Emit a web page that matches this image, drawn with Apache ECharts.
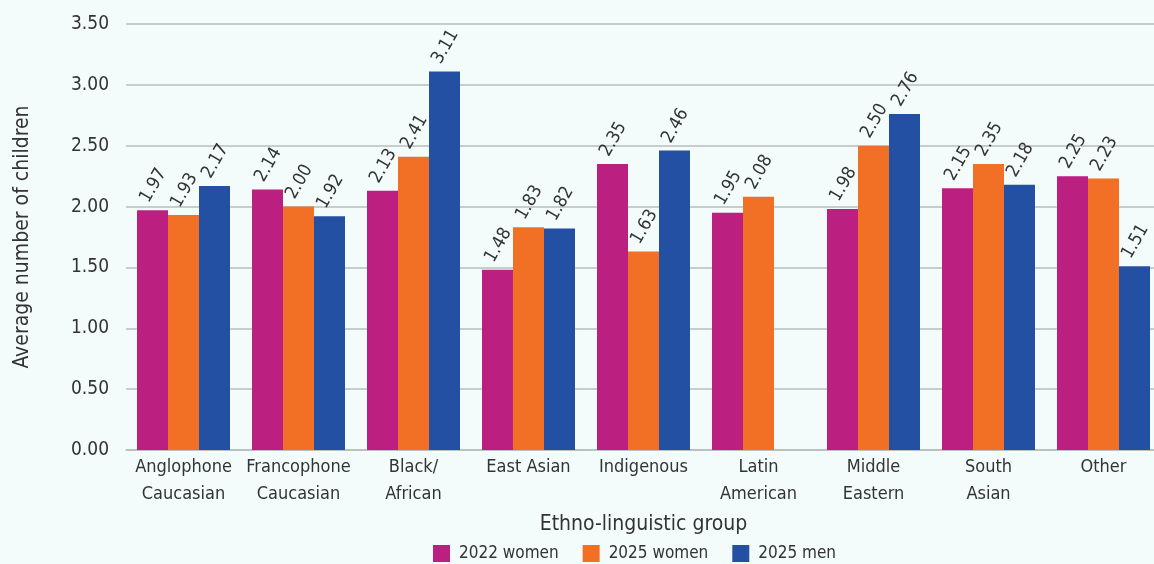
<!DOCTYPE html>
<html>
<head>
<meta charset="utf-8">
<script src="https://cdn.jsdelivr.net/npm/echarts@6/dist/echarts.min.js"></script>
<style>
  html, body { margin: 0; padding: 0; background: #f3fbfb; }
  #chart { width: 1154px; height: 564px; }
</style>
</head>
<body>
<div id="chart"></div>
<script>
// Average number of children by ethno-linguistic group
const categories = [
  'Anglophone\nCaucasian', 'Francophone\nCaucasian', 'Black/\nAfrican', 'East Asian',
  'Indigenous', 'Latin\nAmerican', 'Middle\nEastern', 'South\nAsian', 'Other'
];
const women2022 = [1.97, 2.14, 2.13, 1.48, 2.35, 1.95, 1.98, 2.15, 2.25];
const women2025 = [1.93, 2.00, 2.41, 1.83, 1.63, 2.08, 2.50, 2.35, 2.23];
const men2025   = [2.17, 1.92, 3.11, 1.82, 2.46, null, 2.76, 2.18, 1.51];
const seriesNames = ['2022 women', '2025 women', '2025 men'];
const colors = ['#bb1f7f', '#f26f26', '#2450a4'];

const FONT = '"Liberation Sans Narrow", "DejaVu Sans Condensed", "Roboto Condensed", Roboto, sans-serif';
const TEXT = '#333333';

function barSeries(name, data, color) {
  return {
    name: name,
    type: 'bar',
    data: data,
    barWidth: 31,
    barGap: '0%',
    itemStyle: { color: color },
    label: {
      show: true,
      position: 'top',
      rotate: 60,
      align: 'left',
      verticalAlign: 'middle',
      distance: 9,
      offset: [-4, -7],
      fontFamily: FONT,
      fontSize: 18,
      color: TEXT,
      formatter: p => p.value == null ? '' : p.value.toFixed(2)
    }
  };
}

const chart = echarts.init(document.getElementById('chart'));
chart.setOption({
  backgroundColor: '#f3fbfb',
  animation: false,
  textStyle: { fontFamily: FONT, color: TEXT },
  grid: { left: 126, right: -7, top: 24, bottom: 114, containLabel: false, outerBoundsMode: 'none' },
  legend: {
    bottom: -3,
    left: 428,
    itemWidth: 17,
    itemHeight: 17,
    itemGap: 24,
    icon: 'rect',
    textStyle: { fontFamily: FONT, fontSize: 17, color: TEXT, width: 90, padding: [0, 0, 0, 4] },
    data: seriesNames
  },
  xAxis: {
    type: 'category',
    data: categories,
    name: 'Ethno-linguistic group',
    nameLocation: 'middle',
    nameGap: 64,
    nameTextStyle: { fontFamily: FONT, fontSize: 21, color: TEXT },
    axisLine: { lineStyle: { color: '#b9bcbd', width: 1.5 } },
    axisTick: { show: false },
    axisLabel: { fontFamily: FONT, fontSize: 18, color: TEXT, lineHeight: 27, margin: 4, interval: 0 }
  },
  yAxis: {
    type: 'value',
    min: 0,
    max: 3.5,
    interval: 0.5,
    name: 'Average number of children',
    nameLocation: 'middle',
    nameGap: 93,
    nameTextStyle: { fontFamily: FONT, fontSize: 21, color: TEXT },
    axisLine: { show: false },
    axisTick: { show: false },
    axisLabel: { fontFamily: FONT, fontSize: 19, color: TEXT, margin: 17, formatter: v => v.toFixed(2) },
    splitLine: { lineStyle: { color: '#b9bcbd', width: 1.5 } }
  },
  series: [
    barSeries(seriesNames[0], women2022, colors[0]),
    barSeries(seriesNames[1], women2025, colors[1]),
    barSeries(seriesNames[2], men2025, colors[2])
  ]
});
</script>
</body>
</html>
